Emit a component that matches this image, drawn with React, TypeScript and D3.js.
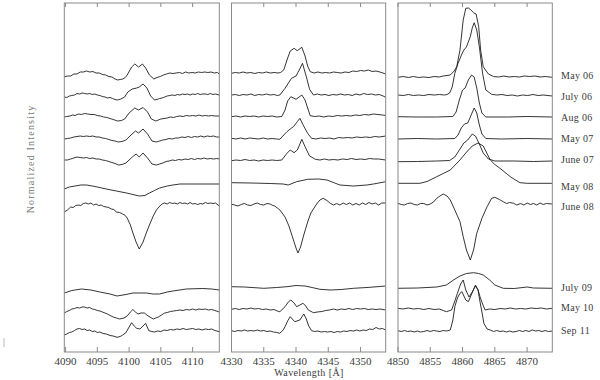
import React from "react";
import * as d3 from "d3";

type Pt = [number, number];

// Observation epochs (top to bottom) and the vertical offset added to each normalized spectrum
const DATES = ["May 06", "July 06", "Aug 06", "May 07", "June 07", "May 08", "June 08", "July 09", "May 10", "Sep 11"];
const OFFSETS = [1.72, 1.51, 1.3, 1.09, 0.88, 0.61, 0.41, -0.4, -0.6, -0.83];

const TICKS_HD = [4090, 4095, 4100, 4105, 4110];
const TICKS_HG = [4330, 4335, 4340, 4345, 4350];
const TICKS_HB = [4850, 4855, 4860, 4865, 4870];

// ---------- H-delta region ----------
const HD_MAY06: Pt[] = [[4089.8,0.99],[4090.3,1.0],[4090.8,1.0],[4091.3,1.02],[4091.8,1.02],[4092.3,1.04],[4092.8,1.04],[4093.3,1.05],[4093.8,1.04],[4094.3,1.045],[4094.8,1.03],[4095.3,1.03],[4095.8,1.015],[4096.3,1.01],[4096.8,0.995],[4097.3,0.99],[4097.8,0.97],[4098.2,0.96],[4098.6,0.965],[4099.0,0.97],[4099.4,0.985],[4099.7,1.01],[4100.4,1.09],[4100.9,1.12],[4101.5,1.09],[4102.1,1.12],[4102.6,1.08],[4103.2,1.01],[4103.9,0.97],[4104.4,0.985],[4104.9,0.995],[4105.4,1.01],[4105.9,1.02],[4106.4,1.03],[4106.9,1.025],[4107.4,1.03],[4107.9,1.035],[4108.4,1.025],[4108.9,1.04],[4109.4,1.03],[4109.9,1.035],[4110.4,1.03],[4110.9,1.04],[4111.4,1.035],[4111.9,1.04],[4112.4,1.035],[4112.9,1.04],[4113.4,1.03],[4113.9,1.035],[4114.2,1.02]];
const HD_JUL06: Pt[] = [[4089.8,1.0],[4090.2,0.995],[4090.6,1.01],[4091.0,1.015],[4091.4,1.02],[4091.8,1.035],[4092.2,1.03],[4092.6,1.04],[4093.0,1.035],[4093.4,1.03],[4093.8,1.035],[4094.2,1.025],[4094.6,1.03],[4095.0,1.02],[4095.4,1.015],[4095.8,1.005],[4096.2,1.0],[4096.6,0.99],[4097.0,0.995],[4097.4,0.985],[4097.8,0.975],[4098.2,0.97],[4098.7,0.98],[4099.3,1.0],[4099.8,1.05],[4100.5,1.08],[4101.2,1.09],[4101.6,1.1],[4102.2,1.13],[4102.8,1.09],[4103.4,1.01],[4104.0,0.97],[4104.4,0.975],[4104.8,0.985],[4105.2,0.99],[4105.6,1.0],[4106.0,1.01],[4106.4,1.015],[4106.8,1.02],[4107.2,1.015],[4107.6,1.025],[4108.0,1.02],[4108.4,1.03],[4108.8,1.025],[4109.2,1.03],[4109.6,1.02],[4110.0,1.03],[4110.4,1.025],[4110.8,1.035],[4111.2,1.025],[4111.6,1.03],[4112.0,1.03],[4112.4,1.025],[4112.8,1.035],[4113.2,1.025],[4113.6,1.03],[4114.2,1.02]];
const HD_AUG06: Pt[] = [[4089.8,1.01],[4090.2,1.015],[4090.7,1.02],[4091.1,1.03],[4091.5,1.025],[4092.0,1.04],[4092.5,1.035],[4093.0,1.045],[4093.5,1.04],[4094.0,1.035],[4094.5,1.035],[4095.0,1.025],[4095.5,1.02],[4096.0,1.01],[4096.5,1.005],[4097.0,0.995],[4097.5,0.985],[4098.2,0.97],[4098.8,0.975],[4099.3,0.99],[4100.0,1.05],[4100.9,1.1],[4101.5,1.08],[4102.2,1.105],[4102.9,1.06],[4103.5,0.99],[4104.2,0.97],[4104.6,0.98],[4105.0,0.99],[4105.5,0.995],[4106.0,1.0],[4106.5,1.01],[4107.0,1.005],[4107.5,1.015],[4108.0,1.02],[4108.5,1.015],[4109.0,1.025],[4109.5,1.02],[4110.0,1.025],[4110.5,1.02],[4111.0,1.03],[4111.5,1.02],[4112.0,1.025],[4112.5,1.02],[4113.0,1.025],[4113.5,1.02],[4114.2,1.02]];
const HD_MAY07: Pt[] = [[4089.8,1.0],[4090.3,1.005],[4090.8,1.01],[4091.3,1.02],[4091.8,1.025],[4092.3,1.03],[4092.8,1.025],[4093.3,1.03],[4093.8,1.025],[4094.3,1.03],[4094.8,1.02],[4095.3,1.02],[4095.8,1.01],[4096.3,1.005],[4096.8,0.995],[4097.3,0.985],[4097.8,0.98],[4098.3,0.97],[4098.9,0.975],[4099.5,0.99],[4100.3,1.04],[4101.0,1.08],[4101.5,1.06],[4102.2,1.1],[4102.9,1.05],[4103.6,0.98],[4104.3,0.97],[4104.8,0.98],[4105.3,0.99],[4105.8,0.995],[4106.3,1.005],[4106.8,1.0],[4107.3,1.01],[4107.8,1.01],[4108.3,1.02],[4108.8,1.015],[4109.3,1.025],[4109.8,1.015],[4110.3,1.025],[4110.8,1.02],[4111.3,1.03],[4111.8,1.02],[4112.3,1.03],[4112.8,1.025],[4113.3,1.03],[4113.8,1.02],[4114.2,1.02]];
const HD_JUN07: Pt[] = [[4089.8,1.0],[4090.3,1.0],[4090.8,1.01],[4091.3,1.02],[4091.8,1.03],[4092.3,1.025],[4092.8,1.02],[4093.3,1.025],[4093.8,1.015],[4094.3,1.02],[4094.8,1.01],[4095.3,1.01],[4095.8,1.0],[4096.3,0.995],[4096.8,0.985],[4097.3,0.975],[4097.8,0.965],[4098.3,0.95],[4098.9,0.955],[4099.5,0.97],[4100.5,1.03],[4101.1,1.06],[4101.6,1.03],[4102.2,1.07],[4102.9,1.02],[4103.6,0.96],[4104.3,0.95],[4104.8,0.96],[4105.3,0.97],[4105.8,0.985],[4106.3,0.99],[4106.8,1.0],[4107.3,0.995],[4107.8,1.005],[4108.3,1.0],[4108.8,1.01],[4109.3,1.005],[4109.8,1.015],[4110.3,1.005],[4110.8,1.015],[4111.3,1.01],[4111.8,1.02],[4112.3,1.01],[4112.8,1.015],[4113.3,1.01],[4113.8,1.015],[4114.2,1.01]];
const HD_MAY08: Pt[] = [[4089.8,0.98],[4090.6,1.0],[4091.5,1.01],[4092.4,1.02],[4093.3,1.02],[4094.2,1.01],[4095.0,1.0],[4096.4,0.98],[4098.0,0.96],[4099.6,0.94],[4100.6,0.925],[4101.6,0.91],[4102.5,0.915],[4103.2,0.94],[4104.0,0.965],[4104.8,0.99],[4106.0,1.01],[4106.9,1.02],[4108.0,1.03],[4109.0,1.03],[4111.0,1.03],[4114.2,1.03]];
const HD_JUN08: Pt[] = [[4089.8,0.95],[4090.3,0.97],[4090.8,1.0],[4091.2,0.995],[4091.6,1.015],[4092.0,1.02],[4092.4,1.015],[4092.8,1.035],[4093.2,1.04],[4093.6,1.03],[4094.0,1.04],[4094.4,1.02],[4094.8,1.03],[4095.2,1.015],[4095.6,1.02],[4096.0,1.005],[4096.4,1.0],[4096.8,0.995],[4097.2,0.98],[4097.6,0.975],[4098.0,0.95],[4098.5,0.945],[4099.0,0.93],[4099.4,0.915],[4099.7,0.89],[4100.2,0.82],[4100.6,0.74],[4101.1,0.65],[4101.6,0.58],[4102.2,0.65],[4102.7,0.74],[4103.2,0.82],[4103.8,0.91],[4104.3,0.97],[4104.7,1.0],[4105.0,1.02],[4105.3,1.035],[4105.6,1.04],[4106.0,1.03],[4106.4,1.045],[4106.8,1.035],[4107.2,1.04],[4107.6,1.03],[4108.0,1.045],[4108.4,1.035],[4108.8,1.04],[4109.2,1.03],[4109.6,1.045],[4110.0,1.03],[4110.4,1.035],[4110.8,1.025],[4111.2,1.035],[4111.6,1.03],[4112.0,1.045],[4112.4,1.035],[4112.8,1.04],[4113.2,1.035],[4113.6,1.04],[4114.2,1.01]];
const HD_JUL09: Pt[] = [[4089.8,0.95],[4091.0,0.975],[4092.5,0.99],[4094.0,0.98],[4095.4,0.96],[4097.0,0.94],[4098.1,0.92],[4099.5,0.935],[4100.6,0.95],[4101.6,0.95],[4102.7,0.95],[4103.8,0.94],[4104.8,0.94],[4106.0,0.96],[4106.9,0.97],[4109.0,0.99],[4111.6,0.995],[4113.0,0.99],[4114.2,0.98]];
const HD_MAY10: Pt[] = [[4089.8,0.95],[4090.2,0.965],[4090.6,0.975],[4091.0,0.99],[4091.4,0.995],[4091.8,1.005],[4092.2,1.0],[4092.6,1.01],[4093.0,1.01],[4093.4,1.0],[4093.8,1.005],[4094.2,0.99],[4094.6,0.985],[4095.0,0.975],[4095.4,0.97],[4095.8,0.96],[4096.2,0.95],[4096.6,0.94],[4097.0,0.925],[4097.5,0.91],[4098.0,0.9],[4098.5,0.89],[4099.2,0.9],[4099.7,0.92],[4100.2,0.96],[4100.6,0.985],[4101.0,0.96],[4101.4,0.94],[4101.9,0.95],[4102.4,0.95],[4103.0,0.92],[4103.8,0.89],[4104.2,0.9],[4104.6,0.91],[4105.1,0.93],[4105.6,0.95],[4106.0,0.955],[4106.5,0.965],[4107.0,0.97],[4107.5,0.975],[4108.0,0.98],[4108.5,0.975],[4109.0,0.985],[4109.5,0.98],[4110.0,0.99],[4110.5,0.98],[4111.0,0.99],[4111.5,0.985],[4112.0,0.99],[4112.5,0.98],[4113.0,0.985],[4113.5,0.975],[4114.2,0.96]];
const HD_SEP11: Pt[] = [[4089.8,0.96],[4090.2,0.97],[4090.6,0.985],[4091.0,0.99],[4091.4,1.005],[4091.8,1.02],[4092.2,1.025],[4092.6,1.015],[4093.0,1.02],[4093.4,1.005],[4093.8,1.01],[4094.2,0.995],[4094.6,1.0],[4095.0,0.985],[4095.4,0.99],[4095.9,0.975],[4096.4,0.97],[4097.0,0.955],[4097.5,0.95],[4098.1,0.937],[4098.6,0.945],[4099.0,0.96],[4099.5,0.983],[4100.0,1.04],[4100.4,1.083],[4100.8,1.05],[4101.2,1.027],[4101.7,1.02],[4102.2,1.05],[4102.6,1.077],[4103.1,1.003],[4103.6,0.995],[4104.0,0.99],[4104.5,1.0],[4105.0,0.995],[4105.5,1.01],[4106.0,1.005],[4106.5,1.015],[4107.0,1.01],[4107.5,1.02],[4108.0,1.015],[4108.5,1.025],[4109.0,1.015],[4109.5,1.02],[4110.0,1.025],[4110.5,1.015],[4111.0,1.02],[4111.5,1.01],[4112.0,1.02],[4112.5,1.015],[4113.0,1.02],[4113.5,1.005],[4114.2,0.993]];

// ---------- H-gamma region ----------
const HG_MAY06: Pt[] = [[4330.0,1.027],[4330.6,1.035],[4331.2,1.03],[4331.8,1.04],[4332.4,1.03],[4333.0,1.035],[4333.6,1.025],[4334.2,1.035],[4334.8,1.03],[4335.4,1.04],[4336.0,1.03],[4336.6,1.035],[4337.2,1.03],[4337.6,1.035],[4338.1,1.06],[4338.6,1.16],[4339.1,1.25],[4339.7,1.277],[4340.2,1.253],[4340.9,1.287],[4341.4,1.2],[4341.8,1.1],[4342.2,1.043],[4342.8,1.03],[4343.4,1.04],[4344.0,1.03],[4344.6,1.035],[4345.2,1.03],[4345.8,1.04],[4346.4,1.035],[4347.0,1.03],[4347.6,1.04],[4348.2,1.035],[4348.8,1.05],[4349.4,1.045],[4350.0,1.055],[4350.6,1.05],[4351.2,1.06],[4351.8,1.045],[4352.4,1.05],[4353.0,1.04],[4353.9,1.02]];
const HG_JUL06: Pt[] = [[4330.0,1.02],[4330.6,1.025],[4331.2,1.015],[4331.8,1.025],[4332.4,1.02],[4333.0,1.03],[4333.6,1.015],[4334.2,1.025],[4334.8,1.02],[4335.4,1.03],[4336.0,1.02],[4336.6,1.025],[4337.1,1.015],[4337.5,1.02],[4338.3,1.087],[4339.3,1.187],[4340.0,1.21],[4340.5,1.27],[4341.0,1.337],[4341.6,1.203],[4342.1,1.077],[4342.7,1.02],[4343.3,1.03],[4343.9,1.02],[4344.5,1.025],[4345.1,1.015],[4345.7,1.025],[4346.3,1.02],[4346.9,1.03],[4347.5,1.02],[4348.1,1.025],[4348.7,1.015],[4349.3,1.03],[4349.9,1.02],[4350.5,1.035],[4351.1,1.025],[4351.7,1.03],[4352.3,1.02],[4352.9,1.025],[4353.5,1.01],[4353.9,0.997]];
const HG_AUG06: Pt[] = [[4330.0,1.013],[4330.7,1.02],[4331.4,1.01],[4332.1,1.02],[4332.8,1.015],[4333.5,1.02],[4334.2,1.01],[4334.9,1.02],[4335.6,1.015],[4336.3,1.02],[4337.0,1.01],[4337.8,1.015],[4338.3,1.08],[4338.7,1.17],[4339.2,1.213],[4340.0,1.187],[4340.9,1.23],[4341.4,1.18],[4341.8,1.1],[4342.2,1.023],[4342.9,1.015],[4343.6,1.02],[4344.3,1.01],[4345.0,1.02],[4345.7,1.015],[4346.4,1.025],[4347.1,1.02],[4347.8,1.025],[4348.5,1.02],[4349.2,1.03],[4349.9,1.025],[4350.6,1.035],[4351.3,1.03],[4352.0,1.04],[4352.7,1.035],[4353.4,1.03],[4353.9,1.025]];
const HG_MAY07: Pt[] = [[4330.0,1.007],[4330.7,1.0],[4331.4,1.01],[4332.1,1.0],[4332.8,1.01],[4333.5,1.005],[4334.2,1.0],[4334.9,1.01],[4335.6,1.0],[4336.3,1.005],[4337.0,1.0],[4337.5,0.997],[4338.1,1.04],[4338.6,1.073],[4339.1,1.1],[4339.6,1.123],[4340.2,1.173],[4340.6,1.207],[4341.1,1.14],[4341.8,1.057],[4342.4,1.007],[4343.1,1.0],[4343.8,1.01],[4344.5,1.005],[4345.2,1.01],[4345.9,1.0],[4346.6,1.015],[4347.3,1.01],[4348.0,1.015],[4348.7,1.01],[4349.4,1.02],[4350.1,1.015],[4350.8,1.02],[4351.5,1.015],[4352.2,1.025],[4352.9,1.02],[4353.9,1.03]];
const HG_JUN07: Pt[] = [[4330.0,0.993],[4330.7,1.0],[4331.4,0.995],[4332.1,1.005],[4332.8,0.995],[4333.5,1.0],[4334.2,0.99],[4334.9,1.0],[4335.6,0.995],[4336.3,1.0],[4337.0,0.995],[4337.8,1.0],[4338.6,1.067],[4339.1,1.1],[4339.7,1.073],[4340.2,1.1],[4340.6,1.16],[4340.9,1.207],[4341.4,1.133],[4342.1,1.04],[4343.0,1.007],[4343.7,1.0],[4344.4,1.01],[4345.1,1.0],[4345.8,1.005],[4346.5,1.0],[4347.2,1.01],[4347.9,1.005],[4348.6,1.015],[4349.3,1.005],[4350.0,1.01],[4350.7,1.005],[4351.4,1.015],[4352.1,1.01],[4352.8,1.01],[4353.9,1.0]];
const HG_MAY08: Pt[] = [[4330.0,1.043],[4333.0,1.04],[4336.0,1.035],[4338.0,1.03],[4338.8,1.02],[4340.1,1.053],[4341.8,1.077],[4343.5,1.08],[4344.8,1.07],[4346.0,1.04],[4346.8,1.02],[4348.9,1.01],[4351.0,1.02],[4352.0,1.03],[4353.9,1.053]];
const HG_JUN08: Pt[] = [[4330.0,1.027],[4330.5,1.02],[4331.0,1.01],[4331.5,1.025],[4332.0,1.035],[4332.5,1.02],[4333.0,1.015],[4333.5,1.03],[4334.0,1.04],[4334.5,1.025],[4335.0,1.02],[4335.5,1.035],[4336.0,1.03],[4336.4,1.015],[4336.7,1.01],[4337.1,0.99],[4337.5,0.97],[4338.3,0.9],[4338.9,0.81],[4339.5,0.69],[4340.0,0.59],[4340.3,0.54],[4340.7,0.6],[4341.2,0.72],[4341.8,0.85],[4342.3,0.94],[4342.7,0.98],[4343.2,1.03],[4343.7,1.07],[4344.2,1.087],[4344.8,1.065],[4345.3,1.037],[4345.8,1.02],[4346.3,1.035],[4346.8,1.02],[4347.3,1.04],[4347.8,1.025],[4348.3,1.04],[4348.8,1.02],[4349.3,1.035],[4349.8,1.02],[4350.3,1.04],[4350.8,1.025],[4351.3,1.045],[4351.8,1.03],[4352.3,1.04],[4352.8,1.02],[4353.3,1.04],[4353.9,1.04]];
const HG_JUL09: Pt[] = [[4330.0,1.013],[4332.0,1.01],[4335.0,0.997],[4337.0,1.005],[4338.6,1.013],[4340.0,1.025],[4341.4,1.02],[4342.5,1.005],[4343.7,0.987],[4345.3,0.98],[4347.0,0.985],[4348.9,0.997],[4351.0,1.005],[4353.0,1.015],[4353.9,1.02]];
const HG_MAY10: Pt[] = [[4330.0,0.987],[4330.6,0.995],[4331.2,0.985],[4331.8,0.995],[4332.4,0.99],[4333.0,1.0],[4333.6,0.99],[4334.2,0.995],[4334.8,0.985],[4335.4,0.99],[4336.0,0.98],[4336.6,0.985],[4337.1,0.97],[4337.5,0.963],[4338.3,1.013],[4338.8,1.06],[4339.2,1.08],[4339.7,1.05],[4340.1,1.013],[4340.6,1.03],[4341.1,1.047],[4341.5,1.02],[4341.9,0.98],[4342.7,0.953],[4343.3,0.96],[4344.0,0.965],[4344.6,0.975],[4345.2,0.98],[4345.8,0.99],[4346.4,0.98],[4347.0,0.99],[4347.6,0.985],[4348.2,0.995],[4348.8,0.985],[4349.4,0.995],[4350.0,0.99],[4350.6,0.995],[4351.2,0.985],[4351.8,0.99],[4352.4,0.985],[4353.0,0.99],[4353.9,0.98]];
const HG_SEP11: Pt[] = [[4330.0,1.003],[4330.5,0.995],[4331.0,1.005],[4331.5,1.0],[4332.0,1.01],[4332.5,1.0],[4333.0,1.005],[4333.5,1.0],[4334.0,1.01],[4334.5,1.0],[4335.0,1.005],[4335.5,0.995],[4336.0,1.0],[4336.5,0.99],[4337.0,0.985],[4337.5,0.977],[4338.0,1.01],[4338.3,1.043],[4338.7,1.1],[4339.1,1.143],[4339.8,1.093],[4340.6,1.11],[4341.2,1.17],[4341.6,1.12],[4341.9,1.06],[4342.4,1.003],[4342.9,0.995],[4343.4,1.0],[4343.9,0.99],[4344.4,0.995],[4344.9,0.99],[4345.4,0.995],[4345.9,0.985],[4346.4,0.995],[4346.9,0.99],[4347.4,1.0],[4347.9,0.995],[4348.4,1.005],[4348.9,1.0],[4349.4,1.01],[4349.9,1.0],[4350.4,1.01],[4350.9,1.005],[4351.4,1.02],[4351.9,1.015],[4352.4,1.035],[4352.9,1.02],[4353.4,1.025],[4353.9,1.01]];

// ---------- H-beta region ----------
const HB_MAY06: Pt[] = [[4850.0,0.987],[4850.8,0.995],[4851.6,0.985],[4852.4,0.995],[4853.2,0.985],[4854.0,0.99],[4854.8,0.985],[4855.6,0.995],[4856.4,0.99],[4857.0,1.0],[4858.1,1.01],[4858.7,1.05],[4859.1,1.093],[4859.6,1.26],[4860.1,1.56],[4860.5,1.677],[4860.9,1.68],[4861.2,1.667],[4861.7,1.633],[4862.1,1.62],[4862.5,1.493],[4862.8,1.26],[4863.2,1.093],[4864.0,1.02],[4864.8,0.995],[4865.6,0.99],[4866.4,1.0],[4867.2,0.99],[4868.0,0.995],[4868.8,0.99],[4869.6,1.0],[4870.4,0.995],[4871.2,1.0],[4872.0,0.99],[4872.8,0.995],[4873.9,0.987]];
const HB_JUL06: Pt[] = [[4850.0,1.02],[4850.8,1.015],[4851.6,1.025],[4852.4,1.015],[4853.2,1.02],[4854.0,1.015],[4854.8,1.025],[4855.6,1.02],[4856.4,1.025],[4857.2,1.02],[4857.6,1.025],[4858.0,1.04],[4858.4,1.1],[4858.8,1.237],[4859.3,1.337],[4859.9,1.43],[4860.2,1.47],[4860.6,1.5],[4861.2,1.603],[4861.5,1.69],[4861.8,1.743],[4862.2,1.67],[4862.6,1.503],[4863.1,1.237],[4863.6,1.07],[4864.5,1.027],[4865.3,1.02],[4866.1,1.025],[4866.9,1.015],[4867.7,1.02],[4868.5,1.01],[4869.3,1.02],[4870.1,1.015],[4870.9,1.025],[4871.7,1.015],[4872.5,1.02],[4873.9,1.01]];
const HB_AUG06: Pt[] = [[4850.0,1.013],[4853.0,1.01],[4856.0,1.01],[4858.5,1.015],[4859.0,1.06],[4859.5,1.18],[4860.0,1.28],[4860.4,1.3],[4860.9,1.38],[4861.4,1.43],[4861.8,1.41],[4862.2,1.3],[4862.6,1.15],[4863.0,1.05],[4863.6,1.01],[4867.0,1.01],[4870.0,1.015],[4873.9,1.01]];
const HB_MAY07: Pt[] = [[4850.0,1.0],[4853.0,1.005],[4856.0,1.0],[4858.8,1.005],[4859.3,1.04],[4859.8,1.11],[4860.3,1.15],[4860.8,1.16],[4861.2,1.22],[4861.8,1.31],[4862.2,1.26],[4862.6,1.14],[4863.0,1.05],[4863.6,1.005],[4866.0,1.0],[4870.0,1.005],[4873.9,1.0]];
const HB_JUN07: Pt[] = [[4850.0,0.983],[4853.0,0.985],[4856.0,0.99],[4858.0,0.995],[4858.8,1.03],[4859.5,1.1],[4860.2,1.17],[4860.8,1.2],[4861.5,1.26],[4862.0,1.24],[4862.6,1.16],[4863.2,1.07],[4864.0,1.01],[4865.0,0.99],[4868.0,0.99],[4871.0,0.985],[4873.9,0.99]];
const HB_MAY08: Pt[] = [[4850.0,1.037],[4852.0,1.037],[4853.4,1.037],[4854.5,1.055],[4856.0,1.103],[4857.0,1.135],[4858.1,1.17],[4859.0,1.23],[4859.6,1.27],[4860.5,1.34],[4861.5,1.41],[4862.4,1.44],[4863.2,1.41],[4864.3,1.27],[4865.0,1.225],[4865.8,1.187],[4866.6,1.145],[4867.4,1.103],[4868.2,1.07],[4868.9,1.043],[4870.0,1.037],[4873.9,1.037]];
const HB_JUN08: Pt[] = [[4850.0,1.037],[4850.5,1.025],[4851.0,1.02],[4851.5,1.035],[4852.0,1.04],[4852.5,1.025],[4853.0,1.02],[4853.5,1.035],[4854.0,1.035],[4854.5,1.02],[4855.0,1.03],[4855.5,1.05],[4856.0,1.087],[4856.5,1.11],[4857.0,1.13],[4857.6,1.11],[4858.1,1.07],[4858.8,0.97],[4859.6,0.853],[4860.1,0.703],[4860.6,0.57],[4861.2,0.47],[4861.7,0.57],[4862.2,0.737],[4863.0,0.887],[4863.8,1.003],[4864.5,1.087],[4865.0,1.097],[4865.7,1.075],[4866.3,1.053],[4866.8,1.035],[4867.3,1.045],[4867.9,1.037],[4868.4,1.02],[4869.0,1.035],[4869.5,1.02],[4870.0,1.04],[4870.5,1.025],[4871.0,1.035],[4871.5,1.02],[4872.0,1.04],[4872.5,1.025],[4873.0,1.035],[4873.9,1.03]];
const HB_JUL09: Pt[] = [[4850.0,0.997],[4853.0,1.0],[4856.0,1.01],[4857.5,1.03],[4858.6,1.08],[4859.6,1.12],[4860.6,1.145],[4861.7,1.153],[4862.5,1.145],[4863.2,1.13],[4864.2,1.08],[4865.0,1.03],[4866.3,0.997],[4868.0,0.995],[4870.0,1.01],[4871.0,1.0],[4873.9,0.997]];
const HB_MAY10: Pt[] = [[4850.0,0.997],[4850.8,0.99],[4851.6,1.0],[4852.4,0.99],[4853.2,0.995],[4854.0,0.985],[4854.8,0.995],[4855.6,0.985],[4856.4,0.99],[4857.0,0.975],[4857.5,0.963],[4858.3,0.98],[4858.8,1.07],[4859.2,1.147],[4859.7,1.24],[4860.1,1.28],[4860.5,1.18],[4861.0,1.11],[4861.5,1.16],[4862.0,1.22],[4862.4,1.18],[4862.7,1.113],[4863.1,1.04],[4863.5,0.98],[4864.2,0.99],[4865.0,0.985],[4865.8,0.995],[4866.6,0.99],[4867.4,1.0],[4868.2,0.99],[4869.0,0.995],[4869.8,0.99],[4870.6,1.0],[4871.4,0.995],[4872.2,1.0],[4873.0,0.99],[4873.9,0.997]];
const HB_SEP11: Pt[] = [[4850.0,1.003],[4850.5,0.995],[4851.0,1.005],[4851.5,0.995],[4852.0,1.0],[4852.5,0.99],[4853.0,1.0],[4853.5,0.99],[4854.0,0.995],[4854.5,1.005],[4855.0,0.995],[4855.5,1.005],[4856.0,1.0],[4856.5,0.995],[4857.0,1.005],[4857.5,1.0],[4858.1,1.01],[4858.5,1.11],[4858.8,1.243],[4859.2,1.33],[4859.6,1.377],[4859.9,1.393],[4860.5,1.31],[4860.9,1.293],[4861.4,1.37],[4862.0,1.46],[4862.4,1.41],[4862.7,1.293],[4863.0,1.19],[4863.3,1.077],[4863.8,1.02],[4864.3,1.01],[4864.8,0.995],[4865.3,1.005],[4865.8,0.995],[4866.3,1.0],[4866.8,0.99],[4867.3,1.0],[4867.8,0.99],[4868.3,0.995],[4868.8,1.005],[4869.3,0.995],[4869.8,1.005],[4870.3,0.995],[4870.8,1.01],[4871.3,1.0],[4871.8,1.005],[4872.3,0.995],[4872.8,1.005],[4873.3,0.995],[4873.9,1.0]];

const HD = [HD_MAY06, HD_JUL06, HD_AUG06, HD_MAY07, HD_JUN07, HD_MAY08, HD_JUN08, HD_JUL09, HD_MAY10, HD_SEP11];
const HG = [HG_MAY06, HG_JUL06, HG_AUG06, HG_MAY07, HG_JUN07, HG_MAY08, HG_JUN08, HG_JUL09, HG_MAY10, HG_SEP11];
const HB = [HB_MAY06, HB_JUL06, HB_AUG06, HB_MAY07, HB_JUN07, HB_MAY08, HB_JUN08, HB_JUL09, HB_MAY10, HB_SEP11];

// ---------- layout ----------
const W = 600;
const H = 380;
const TOP = 3;
const BOTTOM = 352;
const FONT = "'Liberation Serif', 'DejaVu Serif', serif";
const FRAME = "#8a8a8a";
const INK = "#1e1e1e";
const TEXT = "#3a3a3a";

const PANELS = [
  { domain: [4089.8, 4114.2], range: [64.3, 219.3], ticks: TICKS_HD, spectra: HD },
  { domain: [4330.0, 4353.9], range: [231.5, 385.7], ticks: TICKS_HG, spectra: HG },
  { domain: [4850.0, 4873.9], range: [398.0, 552.3], ticks: TICKS_HB, spectra: HB },
];

const y = d3.scaleLinear().domain([-0.04, 3.45]).range([BOTTOM, TOP]);

export default function App() {
  return (
    <svg
      width={W}
      height={H}
      viewBox={`0 0 ${W} ${H}`}
      style={{ position: "absolute", left: 0, top: 0, background: "#fff", display: "block" }}
    >
      <rect x={0} y={0} width={W} height={H} fill="#fff" />
      {PANELS.map((p, pi) => {
        const x = d3.scaleLinear().domain(p.domain).range(p.range);
        return (
          <g key={pi}>
            {p.spectra.map((s, si) => {
              const line = d3
                .line<Pt>()
                .x((d) => x(d[0]))
                .y((d) => y(d[1] + OFFSETS[si]));
              return (
                <path
                  key={si}
                  d={line(s) || ""}
                  fill="none"
                  stroke={INK}
                  strokeWidth={0.9}
                  strokeLinejoin="round"
                />
              );
            })}
            <rect
              x={p.range[0]}
              y={TOP}
              width={p.range[1] - p.range[0]}
              height={BOTTOM - TOP}
              fill="none"
              stroke={FRAME}
              strokeWidth={1}
            />
            {p.ticks.map((t) => (
              <g key={t}>
                <line x1={x(t)} x2={x(t)} y1={BOTTOM} y2={BOTTOM - 5} stroke={FRAME} strokeWidth={1} />
                <line x1={x(t)} x2={x(t)} y1={TOP} y2={TOP + 4} stroke={FRAME} strokeWidth={1} />
                <text
                  x={x(t)}
                  y={365}
                  textAnchor="middle"
                  fontFamily={FONT}
                  fontSize={11}
                  fill={TEXT}
                >
                  {t}
                </text>
              </g>
            ))}
          </g>
        );
      })}
      {DATES.map((d, i) => (
        <text
          key={d}
          x={561}
          y={y(1 + OFFSETS[i]) + 3.3}
          fontFamily={FONT}
          fontSize={10}
          letterSpacing={0.3}
          fill={TEXT}
        >
          {d}
        </text>
      ))}
      <text
        x={309}
        y={376}
        textAnchor="middle"
        fontFamily={FONT}
        fontSize={10}
        letterSpacing={0.4}
        fill={TEXT}
      >
        Wavelength [Å]
      </text>
      <text
        transform="translate(34,159) rotate(-90)"
        textAnchor="middle"
        fontFamily={FONT}
        fontSize={10}
        letterSpacing={1.2}
        fill="#777"
      >
        Normalized Intensity
      </text>
      <line x1={4} x2={4} y1={338} y2={347} stroke="#bbb" strokeWidth={1} />
    </svg>
  );
}
